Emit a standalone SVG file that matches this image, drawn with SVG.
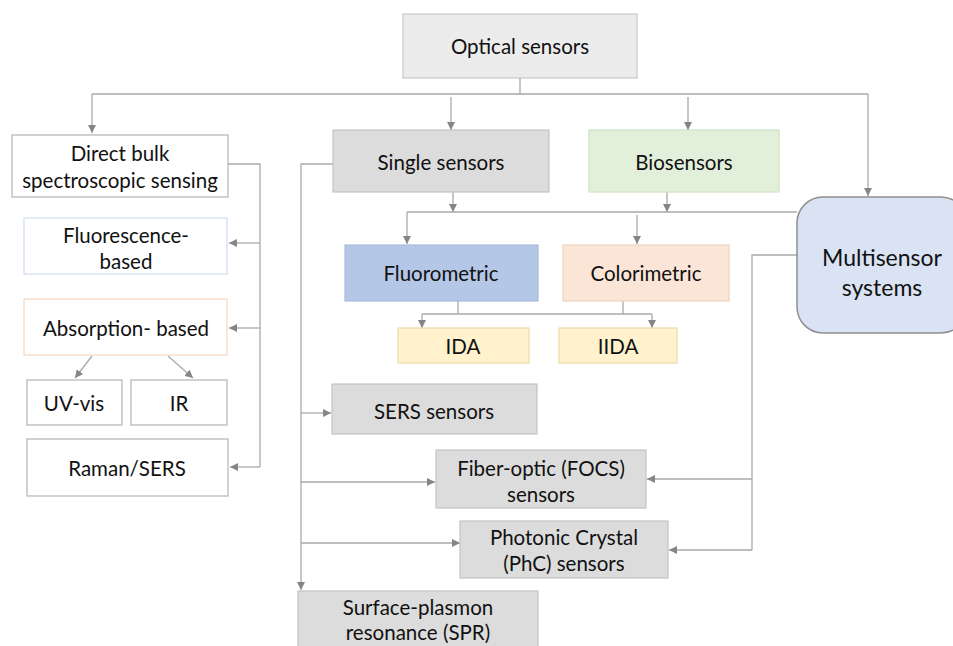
<svg xmlns="http://www.w3.org/2000/svg" width="953" height="646" viewBox="0 0 953 646">
<defs>
<style>
text{font-family:Lato,"Open Sans","Liberation Sans",sans-serif;font-size:20.5px;fill:#111;text-anchor:middle;dominant-baseline:central}
.c{fill:none;stroke:#a9a9a9;stroke-width:1.3}
.w{fill:#fff;stroke:#b4b4b4;stroke-width:1.2}
.g{fill:#dcdcdc;stroke:#c4c4c4;stroke-width:1.2}
</style>
<marker id="a" viewBox="0 0 10 10" refX="10" refY="5" markerWidth="8" markerHeight="8" markerUnits="userSpaceOnUse" orient="auto">
<path d="M0,0 L10,5 L0,10 z" fill="#858585"/>
</marker>
</defs>
<rect width="953" height="646" fill="#fff"/>
<g id="connectors">
<path class="c" d="M520,78 V94 M92,94 H868"/>
<path class="c" d="M92,94 V133" marker-end="url(#a)"/>
<path class="c" d="M451,97 V130" marker-end="url(#a)"/>
<path class="c" d="M688,97 V130" marker-end="url(#a)"/>
<path class="c" d="M868,94 V196" marker-end="url(#a)"/>
<path class="c" d="M228,164 H260 V467"/>
<path class="c" d="M260,243 H229" marker-end="url(#a)"/>
<path class="c" d="M260,328 H229" marker-end="url(#a)"/>
<path class="c" d="M260,467 H230" marker-end="url(#a)"/>
<path class="c" d="M92,356 L75,378" marker-end="url(#a)"/>
<path class="c" d="M168,356 L193,378" marker-end="url(#a)"/>
<path class="c" d="M333,164 H301 V590" marker-end="url(#a)"/>
<path class="c" d="M301,413 H331" marker-end="url(#a)"/>
<path class="c" d="M301,482 H435" marker-end="url(#a)"/>
<path class="c" d="M301,543 H460" marker-end="url(#a)"/>
<path class="c" d="M453,192 V212" marker-end="url(#a)"/>
<path class="c" d="M667,192 V212" marker-end="url(#a)"/>
<path class="c" d="M407,212 H797"/>
<path class="c" d="M407,212 V244" marker-end="url(#a)"/>
<path class="c" d="M637,215 V244" marker-end="url(#a)"/>
<path class="c" d="M458,301 V314 M623,301 V314 M422,314 H652"/>
<path class="c" d="M422,314 V328" marker-end="url(#a)"/>
<path class="c" d="M652,314 V328" marker-end="url(#a)"/>
<path class="c" d="M797,255 H752 V550"/>
<path class="c" d="M752,479 H647" marker-end="url(#a)"/>
<path class="c" d="M752,550 H669" marker-end="url(#a)"/>
</g>
<g id="optical"><rect x="403" y="14" width="234" height="64" fill="#ececec" stroke="#c8c8c8" stroke-width="1.2"/><text x="520" y="46">Optical sensors</text></g>
<g id="direct"><rect class="w" x="12" y="135" width="216" height="62"/><text x="120" y="153">Direct bulk</text><text x="120" y="180">spectroscopic sensing</text></g>
<g id="single"><rect class="g" x="333" y="130" width="216" height="62"/><text x="441" y="162">Single sensors</text></g>
<g id="bio"><rect x="589" y="130" width="190" height="62" fill="#e2efda" stroke="#cfe3c3" stroke-width="1.2"/><text x="684" y="162">Biosensors</text></g>
<g id="fluorescence"><rect x="24" y="218" width="203" height="56" fill="#fff" stroke="#cfdcef" stroke-width="1.2"/><text x="126" y="235">Fluorescence-</text><text x="126" y="261">based</text></g>
<g id="absorption"><rect x="24" y="299" width="203" height="56" fill="#fff" stroke="#f6d5c2" stroke-width="1.2"/><text x="126" y="328">Absorption- based</text></g>
<g id="uvvis"><rect class="w" x="27" y="380" width="95" height="45"/><text x="74" y="403">UV-vis</text></g>
<g id="ir"><rect class="w" x="131" y="380" width="96" height="45"/><text x="179" y="403">IR</text></g>
<g id="raman"><rect class="w" x="27" y="439" width="201" height="57"/><text x="127" y="468">Raman/SERS</text></g>
<g id="fluorometric"><rect x="345" y="245" width="193" height="56" fill="#b4c7e7" stroke="#a7bbdc" stroke-width="1.2"/><text x="441" y="273">Fluorometric</text></g>
<g id="colorimetric"><rect x="563" y="245" width="166" height="56" fill="#fbe5d6" stroke="#f0d3c0" stroke-width="1.2"/><text x="646" y="273">Colorimetric</text></g>
<g id="ida"><rect x="398" y="328" width="131" height="35" fill="#fff2cc" stroke="#ecdcaa" stroke-width="1.2"/><text x="463" y="346">IDA</text></g>
<g id="iida"><rect x="559" y="328" width="118" height="35" fill="#fff2cc" stroke="#ecdcaa" stroke-width="1.2"/><text x="618" y="346">IIDA</text></g>
<g id="multisensor"><rect x="797" y="197" width="170" height="136" rx="26" fill="#dae3f3" stroke="#8f8f8f" stroke-width="1.5"/><text x="882" y="257" style="font-size:23px">Multisensor</text><text x="882" y="287" style="font-size:23px">systems</text></g>
<g id="sers"><rect class="g" x="332" y="384" width="205" height="50"/><text x="434" y="411">SERS sensors</text></g>
<g id="fiber"><rect class="g" x="436" y="450" width="210" height="58"/><text x="541" y="468">Fiber-optic (FOCS)</text><text x="541" y="494">sensors</text></g>
<g id="phc"><rect class="g" x="460" y="521" width="208" height="57"/><text x="564" y="537">Photonic Crystal</text><text x="564" y="563">(PhC) sensors</text></g>
<g id="spr"><rect class="g" x="298" y="591" width="240" height="60"/><text x="418" y="607">Surface-plasmon</text><text x="418" y="632">resonance (SPR)</text></g>
</svg>
